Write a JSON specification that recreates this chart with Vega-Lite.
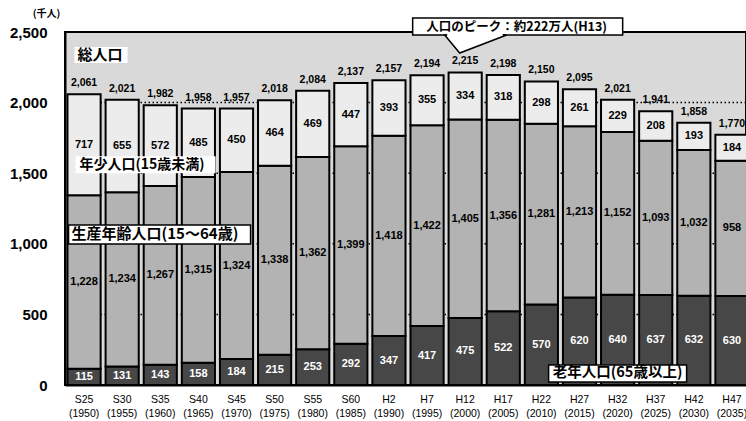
{
  "$schema": "https://vega.github.io/schema/vega-lite/v6.json",
  "width": 681,
  "height": 353,
  "autosize": {"type": "none"},
  "padding": {"left": 65, "top": 32, "right": 0, "bottom": 36},
  "background": "white",
  "config": {
    "view": {"stroke": "black", "strokeWidth": 2, "fill": "#d9d9d9"},
    "font": "Noto Sans CJK JP"
  },
  "datasets": {
    "pop": [
      {"label": "S25 (1950)", "old": 115, "working": 1228, "young": 717, "total": 2061},
      {"label": "S30 (1955)", "old": 131, "working": 1234, "young": 655, "total": 2021},
      {"label": "S35 (1960)", "old": 143, "working": 1267, "young": 572, "total": 1982},
      {"label": "S40 (1965)", "old": 158, "working": 1315, "young": 485, "total": 1958},
      {"label": "S45 (1970)", "old": 184, "working": 1324, "young": 450, "total": 1957},
      {"label": "S50 (1975)", "old": 215, "working": 1338, "young": 464, "total": 2018},
      {"label": "S55 (1980)", "old": 253, "working": 1362, "young": 469, "total": 2084},
      {"label": "S60 (1985)", "old": 292, "working": 1399, "young": 447, "total": 2137},
      {"label": "H2 (1990)", "old": 347, "working": 1418, "young": 393, "total": 2157},
      {"label": "H7 (1995)", "old": 417, "working": 1422, "young": 355, "total": 2194},
      {"label": "H12 (2000)", "old": 475, "working": 1405, "young": 334, "total": 2215},
      {"label": "H17 (2005)", "old": 522, "working": 1356, "young": 318, "total": 2198},
      {"label": "H22 (2010)", "old": 570, "working": 1281, "young": 298, "total": 2150},
      {"label": "H27 (2015)", "old": 620, "working": 1213, "young": 261, "total": 2095},
      {"label": "H32 (2020)", "old": 640, "working": 1152, "young": 229, "total": 2021},
      {"label": "H37 (2025)", "old": 637, "working": 1093, "young": 208, "total": 1941},
      {"label": "H42 (2030)", "old": 632, "working": 1032, "young": 193, "total": 1858},
      {"label": "H47 (2035)", "old": 630, "working": 958, "young": 184, "total": 1770}
    ],
    "grid": [{"g": 500}, {"g": 1000}, {"g": 1500}, {"g": 2000}],
    "one": [{}]
  },
  "layer": [
    {
      "data": {"name": "pop"},
      "mark": {"type": "bar", "fill": "white", "width": {"band": 1}},
      "encoding": {
        "x": {
          "field": "label", "type": "nominal", "sort": null,
          "scale": {"range": [0, 686], "paddingInner": 0.13, "paddingOuter": 0.065},
          "axis": {
            "title": null, "labelAngle": 0, "ticks": false,
            "domainColor": "black", "domainWidth": 2,
            "labelExpr": "split(datum.label, ' ')",
            "labelFont": "Liberation Sans", "labelFontSize": 10.5, "labelColor": "black",
            "labelLineHeight": 14, "labelPadding": 9
          }
        },
        "y": {
          "field": "total", "type": "quantitative",
          "scale": {"domain": [0, 2500], "nice": false},
          "axis": {
            "values": [0, 500, 1000, 1500, 2000, 2500], "format": ",.0f",
            "grid": false, "ticks": false, "domainColor": "black", "domainWidth": 2,
            "labelFont": "Liberation Sans", "labelFontSize": 15, "labelFontWeight": "bold",
            "labelColor": "black", "labelPadding": 18,
            "title": "(千人)", "titleAngle": 0, "titleX": -19, "titleY": -19,
            "titleAlign": "center", "titleBaseline": "middle",
            "titleFontSize": 10, "titleFontWeight": "bold", "titleColor": "black"
          }
        }
      }
    },
    {
      "data": {"name": "grid"},
      "mark": {"type": "rule", "stroke": "black", "strokeWidth": 1.5, "strokeDash": [1.5, 2.5]},
      "encoding": {"y": {"field": "g", "type": "quantitative"}}
    },
    {
      "data": {"name": "pop"},
      "transform": [{"fold": ["old", "working", "young"], "as": ["key", "value"]}],
      "mark": {"type": "bar", "stroke": "black", "strokeWidth": 2},
      "encoding": {
        "x": {"field": "label", "type": "nominal", "sort": null},
        "y": {"field": "value", "type": "quantitative", "stack": "zero"},
        "order": {"field": "key", "sort": "ascending"},
        "color": {
          "field": "key", "type": "nominal",
          "scale": {"domain": ["old", "working", "young"], "range": ["#474747", "#b3b3b3", "#ececec"]},
          "legend": null
        }
      }
    },
    {
      "data": {"name": "pop"},
      "transform": [
        {"fold": ["old", "working", "young"], "as": ["key", "value"]},
        {"stack": "value", "groupby": ["label"], "sort": [{"field": "key", "order": "ascending"}], "as": ["v0", "v1"]},
        {"calculate": "(datum.v0 + datum.v1) / 2", "as": "mid"}
      ],
      "mark": {"type": "text", "fontSize": 11, "fontWeight": "bold", "font": "Liberation Sans"},
      "encoding": {
        "x": {"field": "label", "type": "nominal", "sort": null},
        "y": {"field": "mid", "type": "quantitative", "stack": null},
        "text": {"field": "value", "type": "quantitative", "format": ","},
        "color": {"condition": {"test": "datum.key == 'old'", "value": "white"}, "value": "black"}
      }
    },
    {
      "data": {"name": "pop"},
      "mark": {"type": "text", "fontSize": 10.5, "fontWeight": "bold", "font": "Liberation Sans", "dy": -11, "color": "black"},
      "encoding": {
        "x": {"field": "label", "type": "nominal", "sort": null},
        "y": {"field": "total", "type": "quantitative"},
        "text": {"field": "total", "type": "quantitative", "format": ","}
      }
    },
    {
      "data": {"name": "one"},
      "mark": {"type": "point", "filled": true, "fill": "white", "opacity": 1, "size": 40000,
               "shape": "M-0.095,-0.08H0.435V0.08H-0.095Z"},
      "encoding": {"x": {"datum": "S25 (1950)"}, "y": {"datum": 2337}}
    },
    {
      "data": {"name": "one"},
      "mark": {"type": "text", "align": "left", "dx": -6.5, "fontSize": 15, "fontWeight": "bold", "color": "black", "text": "総人口"},
      "encoding": {"x": {"datum": "S25 (1950)"}, "y": {"datum": 2337}}
    },
    {
      "data": {"name": "one"},
      "mark": {"type": "point", "filled": true, "fill": "white", "opacity": 1, "size": 40000,
               "shape": "M-0.085,-0.085H1.315V0.085H-0.085Z"},
      "encoding": {"x": {"datum": "S25 (1950)"}, "y": {"datum": 1560}}
    },
    {
      "data": {"name": "one"},
      "mark": {"type": "text", "align": "left", "dx": -4.5, "fontSize": 14, "fontWeight": "bold", "color": "black", "text": "年少人口(15歳未満)"},
      "encoding": {"x": {"datum": "S25 (1950)"}, "y": {"datum": 1560}}
    },
    {
      "data": {"name": "one"},
      "mark": {"type": "point", "filled": true, "fill": "white", "opacity": 1, "stroke": "black", "strokeWidth": 1.5, "size": 40000,
               "shape": "M-0.155,-0.09H1.665V0.1H-0.155Z"},
      "encoding": {"x": {"datum": "S25 (1950)"}, "y": {"datum": 1069}}
    },
    {
      "data": {"name": "one"},
      "mark": {"type": "text", "align": "left", "dx": -12.5, "fontSize": 15, "fontWeight": "bold", "color": "black", "text": "生産年齢人口(15～64歳)"},
      "encoding": {"x": {"datum": "S25 (1950)"}, "y": {"datum": 1069}}
    },
    {
      "data": {"name": "one"},
      "mark": {"type": "point", "filled": true, "fill": "white", "opacity": 1, "stroke": "black", "strokeWidth": 1.5, "size": 40000,
               "shape": "M-0.69,-0.08H0.69V0.09H-0.69Z"},
      "encoding": {"x": {"datum": "H32 (2020)"}, "y": {"datum": 85}}
    },
    {
      "data": {"name": "one"},
      "mark": {"type": "text", "align": "center", "fontSize": 14.5, "fontWeight": "bold", "color": "black", "text": "老年人口(65歳以上)"},
      "encoding": {"x": {"datum": "H32 (2020)"}, "y": {"datum": 85}}
    },
    {
      "data": {"name": "one"},
      "mark": {"type": "point", "filled": true, "fill": "white", "opacity": 1, "stroke": "black", "strokeWidth": 1.5, "size": 40000,
               "shape": "M-0.525,-0.37H1.575V-0.2H-0.525Z"},
      "encoding": {"x": {"datum": "H12 (2000)"}, "y": {"datum": 2337}}
    },
    {
      "data": {"name": "one"},
      "mark": {"type": "point", "filled": true, "fill": "white", "opacity": 1, "stroke": "black", "strokeWidth": 1.5, "size": 3600,
               "shape": "M-0.683,-0.233L-0.183,0.367L1.383,-0.233Z"},
      "encoding": {"x": {"datum": "H12 (2000)"}, "y": {"datum": 2429}}
    },
    {
      "data": {"name": "one"},
      "mark": {"type": "point", "filled": true, "fill": "white", "opacity": 1, "size": 3600,
               "shape": "M-0.6,-0.3H1.25V-0.2H-0.6Z"},
      "encoding": {"x": {"datum": "H12 (2000)"}, "y": {"datum": 2429}}
    },
    {
      "data": {"name": "one"},
      "mark": {"type": "text", "align": "center", "dx": 51.5, "dy": -28, "fontSize": 12.5, "fontWeight": "bold", "color": "black", "text": "人口のピーク：約222万人(H13)"},
      "encoding": {"x": {"datum": "H12 (2000)"}, "y": {"datum": 2337}}
    }
  ]
}
